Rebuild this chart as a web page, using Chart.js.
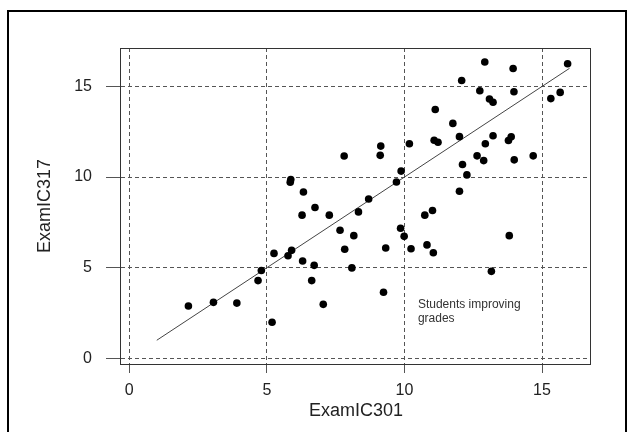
<!DOCTYPE html>
<html>
<head>
<meta charset="utf-8">
<title>ExamIC301 vs ExamIC317</title>
<script src="https://cdn.jsdelivr.net/npm/chart.js@4.4.1/dist/chart.umd.min.js"></script>
<style>
  html, body { margin: 0; padding: 0; background: #fff; }
  #wrap { position: relative; width: 633px; height: 432px; }
</style>
</head>
<body>
<div id="wrap"><canvas id="myCanvas" width="633" height="432"></canvas></div>
<script>
'use strict';

// scores, one entry per student
var examIC301 = [2.15, 3.06, 3.91, 4.68, 4.80, 5.19, 5.26, 5.77, 5.90, 5.87,
    5.85, 6.33, 6.28, 6.30, 6.63, 6.72, 6.75, 7.05, 7.27, 7.66,
    7.83, 7.81, 8.09, 8.16, 8.33, 8.70, 9.14, 9.12, 9.24, 9.32,
    9.71, 9.86, 9.88, 9.99, 10.18, 10.24, 10.74, 10.82, 11.02, 11.05,
    11.08, 11.22, 11.12, 11.76, 12.00, 12.00, 12.08, 12.11, 12.27, 12.64,
    12.74, 12.88, 12.92, 12.94, 13.09, 13.22, 13.16, 13.22, 13.81, 13.78,
    13.88, 13.95, 13.98, 13.99, 14.68, 15.32, 15.66, 15.93];
var examIC317 = [2.89, 3.09, 3.05, 4.29, 4.85, 1.99, 5.79, 5.66, 5.96, 9.87,
    9.72, 9.18, 7.90, 5.37, 4.29, 5.13, 8.32, 2.98, 7.90, 7.07,
    6.02, 11.16, 4.99, 6.77, 8.08, 8.79, 11.71, 11.20, 3.65, 6.09,
    9.73, 7.18, 10.33, 6.73, 11.84, 6.05, 7.90, 6.26, 8.16, 5.83,
    12.03, 11.92, 13.73, 12.96, 12.23, 9.22, 15.33, 10.69, 10.12, 11.17,
    14.76, 10.91, 16.35, 11.84, 14.31, 14.13, 4.80, 12.28, 6.77, 12.02,
    12.22, 15.99, 14.71, 10.95, 11.17, 14.33, 14.67, 16.25];

// the y = x reference line
var lineX = [1, 16];
var lineY = [1, 16];

var xTicks = [0, 5, 10, 15];
var yTicks = [0, 5, 10, 15];

var noteText = ['Students improving', 'grades'];
var noteAt = [10.49, 2.94];

var points = examIC301.map(function (v, i) { return { x: v, y: examIC317[i] }; });
var diag = lineX.map(function (v, i) { return { x: v, y: lineY[i] }; });

var fontFamily = '"Liberation Sans", Arial, sans-serif';

// box round the plot, the note and the outer frame
var framePlugin = {
    id: 'frame',
    afterDraw: function (chart) {
        var ctx = chart.ctx;
        var a = chart.chartArea;
        ctx.save();
        ctx.strokeStyle = '#333';
        ctx.lineWidth = 1;
        ctx.strokeRect(a.left - 0.5, a.top + 0.5, a.right - a.left, a.bottom - a.top);

        var px = chart.scales.x.getPixelForValue(noteAt[0]);
        var py = chart.scales.y.getPixelForValue(noteAt[1]);
        ctx.fillStyle = '#333';
        ctx.font = '12px ' + fontFamily;
        ctx.textAlign = 'left';
        ctx.textBaseline = 'middle';
        noteText.forEach(function (t, i) { ctx.fillText(t, px, py + i * 14); });

        ctx.strokeStyle = '#000';
        ctx.lineWidth = 2;
        ctx.strokeRect(8, 11, 618, 460);
        ctx.restore();
    }
};

function fixedTicks(list) {
    return function (scale) {
        scale.ticks = list.map(function (v) { return { value: v }; });
    };
}

var ctx = document.getElementById('myCanvas').getContext('2d');
var myChart = new Chart(ctx, {
    type: 'scatter',
    data: {
        datasets: [
            {
                data: points,
                backgroundColor: '#000',
                borderWidth: 0,
                pointRadius: 3.8,
                pointHoverRadius: 3.8
            },
            {
                type: 'line',
                data: diag,
                borderColor: '#444',
                borderWidth: 1,
                pointRadius: 0,
                fill: false
            }
        ]
    },
    options: {
        responsive: false,
        animation: false,
        events: [],
        layout: { padding: { top: 48, right: 42, left: 0, bottom: 0 } },
        plugins: {
            legend: { display: false },
            tooltip: { enabled: false }
        },
        scales: {
            x: {
                type: 'linear',
                min: -0.3,
                max: 16.78,
                afterBuildTicks: fixedTicks(xTicks),
                afterFit: function (s) { s.height = 68; },
                border: { display: false, dash: [4, 3] },
                grid: {
                    color: '#555',
                    tickColor: '#555',
                    tickBorderDash: [],
                    tickLength: 9
                },
                ticks: {
                    color: '#222',
                    padding: 8,
                    maxRotation: 0,
                    font: { family: fontFamily, size: 16 }
                },
                title: {
                    display: true,
                    text: 'ExamIC301',
                    color: '#222',
                    padding: { top: 0, bottom: 10 },
                    font: { family: fontFamily, size: 18 }
                }
            },
            y: {
                type: 'linear',
                min: -0.31,
                max: 17.12,
                afterBuildTicks: fixedTicks(yTicks),
                afterFit: function (s) { s.width = 121; },
                border: { display: false, dash: [4, 3] },
                grid: {
                    color: '#555',
                    tickColor: '#555',
                    tickBorderDash: [],
                    tickLength: 15
                },
                ticks: {
                    color: '#222',
                    padding: 14,
                    font: { family: fontFamily, size: 16 }
                },
                title: {
                    display: true,
                    text: 'ExamIC317',
                    color: '#222',
                    padding: { top: 34, bottom: 0 },
                    font: { family: fontFamily, size: 18 }
                }
            }
        }
    },
    plugins: [framePlugin]
});
</script>
</body>
</html>
